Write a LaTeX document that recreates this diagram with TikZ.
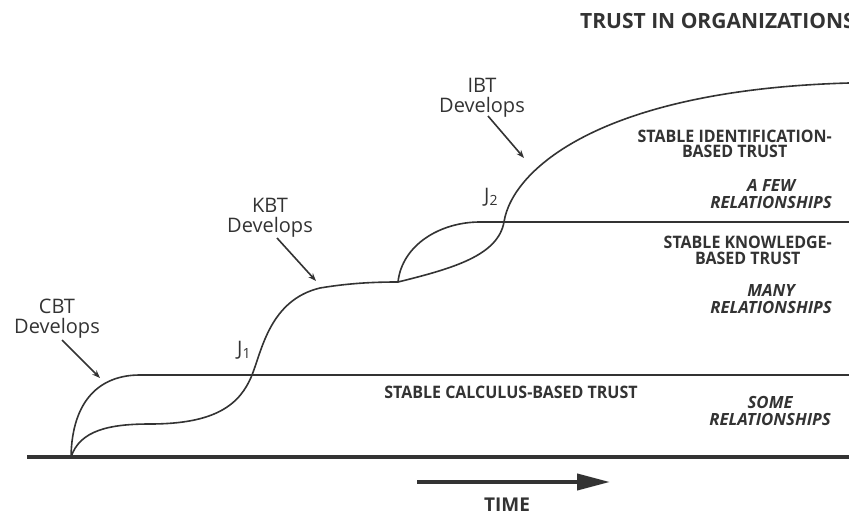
\documentclass[tikz,border=0pt]{standalone}
\usepackage{fontspec}
\setmainfont{Open Sans}
\newfontfamily\condfont[FakeStretch=0.93]{Open Sans}
\usetikzlibrary{arrows.meta}
\definecolor{ink}{HTML}{333333}
\begin{document}
\begin{tikzpicture}[x=1pt,y=-1pt,
  curve/.style={draw=ink,line width=1.6pt},
  axisline/.style={draw=ink,line width=3.5pt},
  ptr/.style={draw=ink,line width=1.6pt,-{Stealth[length=8pt,width=6pt]}},
  lbl/.style={text=ink,font=\fontsize{20}{20}\selectfont,align=center,inner sep=0pt},
  zone/.style={text=ink,font=\condfont\bfseries\fontsize{17.2}{15.8}\selectfont,align=center,inner sep=0pt},
  rel/.style={text=ink,font=\bfseries\itshape\fontsize{16.8}{16.5}\selectfont,align=center,inner sep=0pt},
]
\useasboundingbox (0,0) rectangle (849,516);
\fill[white] (0,0) rectangle (849,516);
\clip (0,0) rectangle (849,516);

% key points
\coordinate (O) at (27,457);
\coordinate (Oend) at (849,457);
\coordinate (S) at (71,457);
\coordinate (C1) at (140,375);
\coordinate (C1end) at (849,375);
\coordinate (B1) at (150,424);
\coordinate (J1) at (252,375);
\coordinate (B2) at (320,288);
\coordinate (K) at (398,282);
\coordinate (K1) at (480,222);
\coordinate (K1end) at (849,222);
\coordinate (J2) at (504,222);
\coordinate (Iend) at (849,83);

% axis
\draw[axisline] (O) -- (Oend);

% CBT curve and stable line
\draw[curve] (S) .. controls (72,400) and (100,375) .. (C1) -- (C1end);

% KBT curve
\draw[curve] (S) .. controls (80,430) and (110,424) .. (B1)
  .. controls (215,424) and (240,405) .. (J1)
  .. controls (262,350) and (270,300) .. (B2)
  .. controls (350,283) and (375,282) .. (K);

% KBT stable bump and line
\draw[curve] (K) .. controls (402,245) and (440,222) .. (K1) -- (K1end);

% IBT curve
\draw[curve] (K) .. controls (455,268) and (498,255) .. (J2)
  .. controls (512,170) and (600,90) .. (Iend);

% labels (base = baseline of last line)
\node[lbl,anchor=base] (cbt) at (57,333) {CBT\\Develops};
\node[lbl,anchor=base] (kbt) at (270,232) {KBT\\Develops};
\node[lbl,anchor=base] (ibt) at (482,113) {IBT\\Develops};

\coordinate (cbtA) at (62,340); \coordinate (cbtB) at (100,378);
\coordinate (kbtA) at (277,238); \coordinate (kbtB) at (316,281);
\coordinate (ibtA) at (488,116); \coordinate (ibtB) at (524,158);
\draw[ptr] (cbtA) -- (cbtB);
\draw[ptr] (kbtA) -- (kbtB);
\draw[ptr] (ibtA) -- (ibtB);

\node[text=ink,font=\fontsize{20}{20}\selectfont,inner sep=0pt,anchor=base west] (j1) at (237,355) {J\raisebox{-3pt}{\fontsize{14}{14}\selectfont 1}};
\node[text=ink,font=\fontsize{20}{20}\selectfont,inner sep=0pt,anchor=base west] (j2) at (484,202) {J\raisebox{-3pt}{\fontsize{14}{14}\selectfont 2}};

\node[text=ink,font=\bfseries\fontsize{21}{21}\selectfont,inner sep=0pt,anchor=base west] (title) at (580,29) {TRUST IN ORGANIZATIONS};

\node[zone,anchor=base east] (ibz) at (832,158) {STABLE IDENTIFICATION-\\BASED TRUST};
\node[rel,anchor=base east] (ibr) at (832,208) {A FEW\\RELATIONSHIPS};
\node[zone,anchor=base east] (kbz) at (832,264) {STABLE KNOWLEDGE-\\BASED TRUST};
\node[rel,anchor=base east] (kbr) at (832,313) {MANY\\RELATIONSHIPS};
\node[zone,anchor=base] (cbz) at (511,398) {STABLE CALCULUS-BASED TRUST};
\node[rel,anchor=base east] (cbr) at (831,425) {SOME\\RELATIONSHIPS};

% time arrow
\coordinate (tA) at (417,482); \coordinate (tB) at (610,482);
\draw[draw=ink,line width=4pt,-{Triangle[length=33pt,width=16pt]}] (tA) -- (tB);
\node[text=ink,font=\bfseries\fontsize{19}{19}\selectfont,inner sep=0pt,anchor=base] (time) at (507,511) {TIME};
\end{tikzpicture}
\end{document}
